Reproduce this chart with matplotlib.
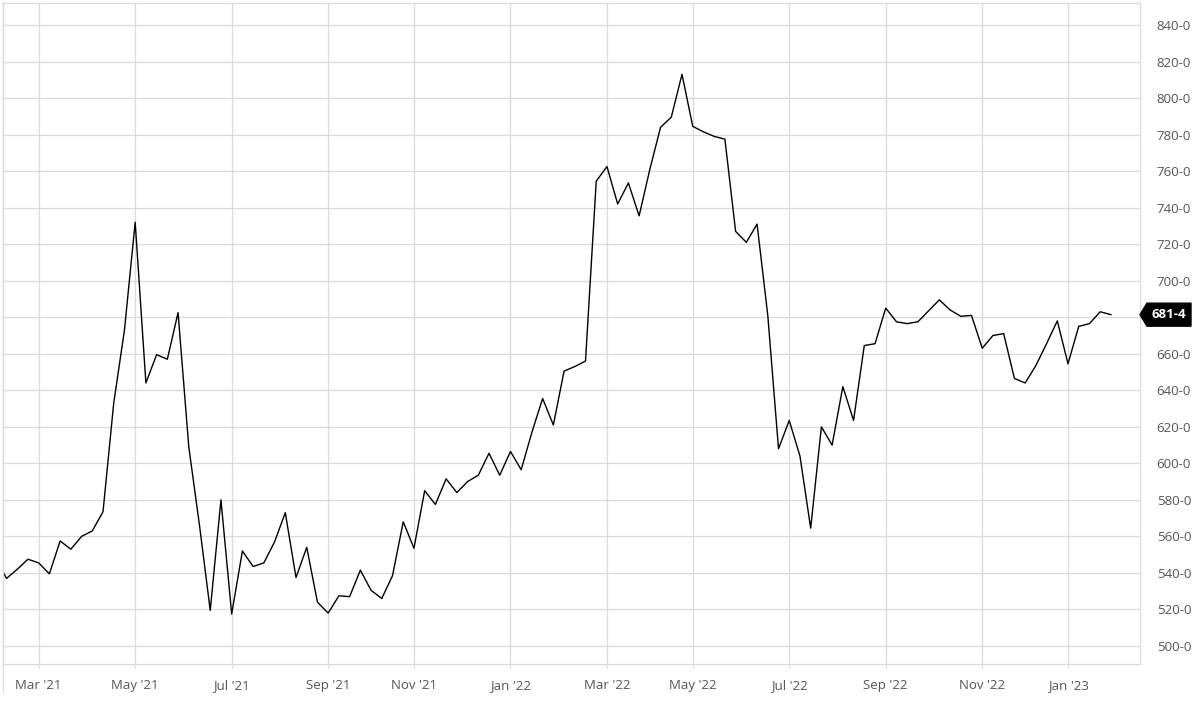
import numpy as np
import pandas as pd
import matplotlib
matplotlib.use('Agg')
import matplotlib.pyplot as plt
from matplotlib.patches import Polygon
from matplotlib.lines import Line2D

plt.rcParams['font.family'] = ['Open Sans', 'DejaVu Sans']

# weekly closes (Mondays), Feb 2021 - Jan 2023
start_date = '2021-02-01'
prices = [
    548, 537, 542, 547.5,                      # Feb '21
    545.5, 539.5, 557.5, 553, 560,             # Mar
    563, 573.5, 633, 673,                      # Apr
    732, 644, 659.5, 657, 682.5,               # May
    609, 566, 519.5, 580,                      # Jun
    517.5, 552, 543.5, 545.5,                  # Jul
    557, 573, 537.5, 554, 524,                 # Aug
    518, 527.5, 527, 541.5,                    # Sep
    530.5, 526, 538.5, 568,                    # Oct
    553.5, 585, 577.5, 591.5, 584,             # Nov
    590, 593.5, 605.5, 593.5,                  # Dec
    606.5, 596.5, 617, 635.5, 621,             # Jan '22
    650.5, 653, 656, 754.5,                    # Feb
    762.5, 742, 753.5, 735.5,                  # Mar
    761, 784, 789.5, 813,                      # Apr
    784.5, 781.5, 779, 777.5, 727,             # May
    721, 731, 681, 608,                        # Jun
    623.5, 604, 564.5, 620,                    # Jul
    610, 642, 623.5, 664.5, 665.5,             # Aug
    685, 677.5, 676.5, 677.5,                  # Sep
    683.5, 689.5, 684, 680.5, 681,             # Oct
    663, 670, 671, 646.5,                      # Nov
    644, 653.5, 665.5, 678,                    # Dec
    654.5, 675, 676.5, 683, 681.4,             # Jan '23
]
y_ticks = [500, 520, 540, 560, 580, 600, 620, 640, 660, 680, 700,
           720, 740, 760, 780, 800, 820, 840]
last_label = '681-4'

dates = pd.date_range(start_date, periods=len(prices), freq='W-MON')

fig = plt.figure(figsize=(12, 7.02), dpi=100)
ax = fig.add_axes([3 / 1200, 38 / 702, 1137 / 1200, 661.3 / 702])

ax.plot(dates, prices, color='black', linewidth=1.0, zorder=3)

ax.set_ylim(490.14, 852.2)
ax.set_xlim(pd.Timestamp('2021-02-05 17:00'), pd.Timestamp('2023-02-18'))

# first weekly bar of every odd month carries a label
s = pd.Series(dates, index=dates)
firsts = s.groupby([dates.year, dates.month]).first()
x_ticks = [d for d in firsts if d.month % 2 == 1]
ax.set_xticks(x_ticks)
ax.set_xticklabels([d.strftime("%b '%y") for d in x_ticks])

# the 680 label sits under the last-price badge, so it is left blank
ax.set_yticks(y_ticks)
ax.set_yticklabels(['' if v == 680 else f'{v}-0' for v in y_ticks])
ax.yaxis.tick_right()

grid_c = '#dadada'
ax.grid(True, color=grid_c, linewidth=0.9)
for sp in ax.spines.values():
    sp.set_color(grid_c)
    sp.set_linewidth(0.9)

ax.tick_params(axis='y', length=0, pad=12, labelsize=9.5, labelcolor='#555555')
ax.tick_params(axis='x', length=3, color=grid_c, pad=8, labelsize=9.5,
               labelcolor='#555555')

# left border runs down past the axis
fig.add_artist(Line2D([3 / 1200, 3 / 1200], [10 / 702, 700 / 702],
                      transform=fig.transFigure, color=grid_c, linewidth=0.9))

# last price badge on the right axis
y0, y1 = ax.get_ylim()
yf = (prices[-1] - y0) / (y1 - y0)
w_px, h_px, tip_px = 51, 23, 7
W = 1137.0
H = 661.3
badge = Polygon([(1.0, yf),
                 (1.0 + tip_px / W, yf + h_px / 2 / H),
                 (1.0 + w_px / W, yf + h_px / 2 / H),
                 (1.0 + w_px / W, yf - h_px / 2 / H),
                 (1.0 + tip_px / W, yf - h_px / 2 / H)],
                closed=True, transform=ax.transAxes, facecolor='black',
                edgecolor='black', clip_on=False, zorder=5)
ax.add_patch(badge)
ax.text(1.0 + (tip_px + w_px) / 2 / W, yf, last_label, transform=ax.transAxes,
        color='white', fontsize=9.5, fontweight='bold', ha='center',
        va='center', zorder=6, clip_on=False)

fig.savefig('out.png', dpi=100)
